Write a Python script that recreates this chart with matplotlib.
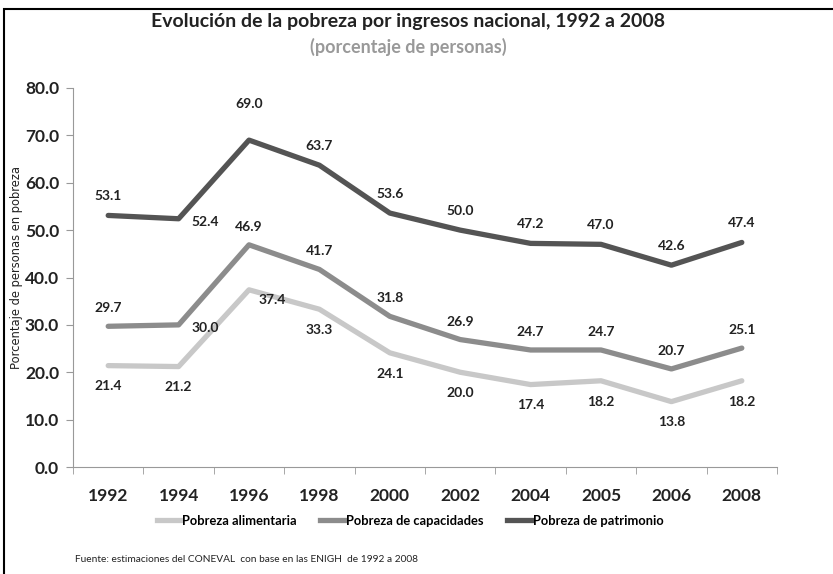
import matplotlib.pyplot as plt
from matplotlib.lines import Line2D
import numpy as np

years = ['1992', '1994', '1996', '1998', '2000', '2002', '2004', '2005', '2006', '2008']
alimentaria = [21.4, 21.2, 37.4, 33.3, 24.1, 20.0, 17.4, 18.2, 13.8, 18.2]
capacidades = [29.7, 30.0, 46.9, 41.7, 31.8, 26.9, 24.7, 24.7, 20.7, 25.1]
patrimonio = [53.1, 52.4, 69.0, 63.7, 53.6, 50.0, 47.2, 47.0, 42.6, 47.4]
names = ['Pobreza alimentaria', 'Pobreza de capacidades', 'Pobreza de patrimonio']

colors = ['#c8c8c8', '#8c8c8c', '#545454']
font = ['Lato', 'DejaVu Sans']

# label offsets in points (dx, dy)
off_ali = [(0, -15)] * 10
off_ali[2] = (17, -7)
off_cap = [(0, 13)] * 10
off_cap[1] = (19, -2)
off_pat = [(0, 14)] * 10
off_pat[1] = (19, -2)
off_pat[2] = (0, 26)

fig = plt.figure(figsize=(8.33, 5.74), dpi=100)
ax = fig.add_axes([73 / 833, 1 - 467 / 574, 704 / 833, 379 / 574])

x = np.arange(len(years))
for vals, col, offs, name in zip([alimentaria, capacidades, patrimonio], colors,
                                  [off_ali, off_cap, off_pat], names):
    ax.plot(x, vals, color=col, lw=3.8, solid_capstyle='round', label=name)
    for xi, v, o in zip(x, vals, offs):
        ax.annotate(f'{v:.1f}', (xi, v), xytext=o, textcoords='offset points',
                    ha='center', va='center', fontsize=10, fontweight='bold',
                    color='#222222', family=font)

ax.set_xlim(-0.5, len(years) - 0.5)
ax.set_ylim(0, 80)
ax.set_yticks(np.arange(0, 81, 10))
ax.set_yticklabels([f'{v:.1f}' for v in np.arange(0, 81, 10)])
ax.set_xticks(x)
ax.set_xticklabels(years)
ax.set_xticks(np.arange(-0.5, len(years), 1), minor=True)
ax.tick_params(axis='x', which='major', length=0, pad=15)
ax.tick_params(axis='x', which='minor', length=5, color='#999999', direction='out')
ax.tick_params(axis='y', length=5, color='#999999', pad=5)
for lab in ax.get_xticklabels() + ax.get_yticklabels():
    lab.set_fontweight('bold')
    lab.set_fontsize(12.5)
    lab.set_family(font)
    lab.set_color('#222222')
for s in ['top', 'right']:
    ax.spines[s].set_visible(False)
for s in ['left', 'bottom']:
    ax.spines[s].set_color('#999999')

fig.text(17 / 833, 1 - 267 / 574, 'Porcentaje de personas en pobreza', rotation=90,
         ha='center', va='center', fontsize=8.3, color='#222222')

fig.text(408 / 833, 1 - 21 / 574,
         'Evolución de la pobreza por ingresos nacional, 1992 a 2008',
         ha='center', va='center', fontsize=14, fontweight='bold', family=font,
         color='#222222')
fig.text(408 / 833, 1 - 47 / 574, '(porcentaje de personas)', ha='center',
         va='center', fontsize=13, fontweight='bold', family=font, color='#999999')

handles = [Line2D([0], [0], color=c, lw=3.8) for c in colors]
fig.legend(handles, names, loc='center', bbox_to_anchor=(410 / 833, 1 - 521 / 574),
           ncol=3, frameon=False, handlelength=1.9, handletextpad=0.1, columnspacing=1.8,
           prop={'family': font, 'weight': 'bold', 'size': 9.3})

fig.text(75 / 833, 1 - 559 / 574,
         'Fuente: estimaciones del CONEVAL  con base en las ENIGH  de 1992 a 2008',
         ha='left', va='center', fontsize=7.3, family=font, color='#222222')

fig.add_artist(plt.Rectangle((4 / 833, -0.05), 1.1, 1 - 9 / 574 + 0.05,
                             transform=fig.transFigure, fill=False, ec='black', lw=1.5))

fig.savefig('out.png', dpi=100)
plt.close()
